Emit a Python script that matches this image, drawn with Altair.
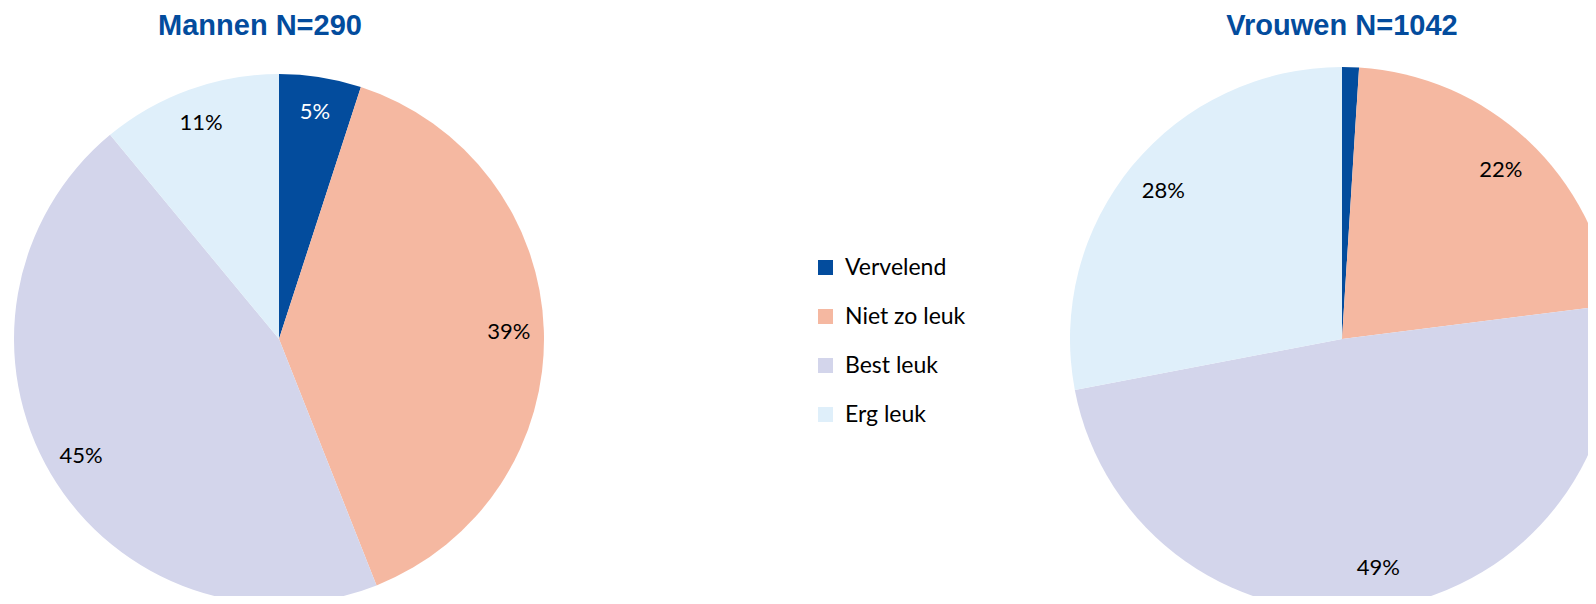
import altair as alt
import pandas as pd

categories = ["Vervelend", "Niet zo leuk", "Best leuk", "Erg leuk"]
mannen_values = [5, 39, 45, 11]
vrouwen_values = [1, 22, 49, 28]
groups = ["Mannen", "Vrouwen"]
titles = ["Mannen N=290", "Vrouwen N=1042"]
colors = ["#034C9D", "#F5B8A1", "#D3D5EB", "#DFEFFA"]
label_colors = ["#FFFFFF", "#000000", "#000000", "#000000"]

rows = []
for g, vals in zip(groups, [mannen_values, vrouwen_values]):
    for i, (c, v) in enumerate(zip(categories, vals)):
        rows.append({"group": g, "category": c, "value": v, "order": i,
                     "label": f"{v}%", "lc": label_colors[i]})
df = pd.DataFrame(rows)

# layout (pixels within the chart)
centers = {"Mannen": (271, 331, 265, 230), "Vrouwen": (1334, 331, 272, 232)}
W, H = 1580, 588

color_enc = alt.Color(
    "category:N",
    scale=alt.Scale(domain=categories, range=colors),
    sort=categories,
    legend=alt.Legend(
        title=None, orient="none", legendX=806, legendY=248,
        symbolType="square", symbolSize=225, symbolStrokeWidth=0,
        labelFont="Lato", labelFontSize=23, labelColor="#000000",
        rowPadding=25, labelOffset=8, padding=0, labelLimit=300,
    ),
)

layers = []
for g, t in zip(groups, titles):
    cx, cy, r, lr = centers[g]
    base = alt.Chart(df).transform_filter(alt.datum.group == g)
    arc = base.mark_arc(outerRadius=r).encode(
        theta=alt.Theta("value:Q", stack=True, scale=alt.Scale(domain=[0, 100])),
        order=alt.Order("order:Q", sort="ascending"),
        color=color_enc,
        x=alt.value(cx), y=alt.value(cy),
    )
    txt = base.mark_text(radius=lr, font="Lato", fontSize=22).encode(
        theta=alt.Theta("value:Q", stack=True, scale=alt.Scale(domain=[0, 100])),
        order=alt.Order("order:Q", sort="ascending"),
        text="label:N",
        color=alt.Color("lc:N", scale=None),
        opacity=alt.condition(alt.datum.value > 1, alt.value(1), alt.value(0)),
        x=alt.value(cx), y=alt.value(cy),
    )
    title = alt.Chart(pd.DataFrame({"t": [t]})).mark_text(
        font="Liberation Sans", fontSize=29, fontWeight="bold", color="#034C9D",
        baseline="alphabetic", align="center",
    ).encode(text="t:N", x=alt.value(cx - (19 if g == "Mannen" else 0)), y=alt.value(27))
    layers += [arc, txt, title]

chart = alt.layer(*layers).properties(
    width=W, height=H, padding=0,
    autosize=alt.AutoSizeParams(type="none"),
).configure(background="white").configure_view(strokeWidth=0, stroke="transparent")

chart.save("out.html", embed_options={"renderer": "svg", "actions": False})
